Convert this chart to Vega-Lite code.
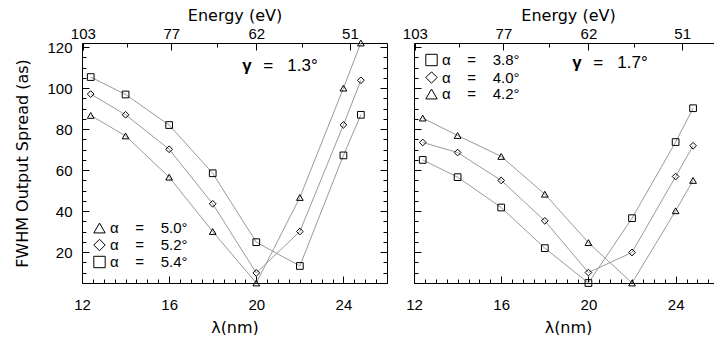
{
  "$schema": "https://vega.github.io/schema/vega-lite/v6.json",
  "padding": {"left": 14, "top": 7, "right": 0, "bottom": 0},
  "background": "white",
  "datasets": {
    "left": [
      {"lambda": 12.4, "fwhm": 86.7, "alpha": "α\u00a0\u00a0\u00a0\u00a0=\u00a0\u00a0\u00a0\u00a05.0°"},
      {"lambda": 14, "fwhm": 76.7, "alpha": "α\u00a0\u00a0\u00a0\u00a0=\u00a0\u00a0\u00a0\u00a05.0°"},
      {"lambda": 16, "fwhm": 56.6, "alpha": "α\u00a0\u00a0\u00a0\u00a0=\u00a0\u00a0\u00a0\u00a05.0°"},
      {"lambda": 18, "fwhm": 30.1, "alpha": "α\u00a0\u00a0\u00a0\u00a0=\u00a0\u00a0\u00a0\u00a05.0°"},
      {"lambda": 20, "fwhm": 5, "alpha": "α\u00a0\u00a0\u00a0\u00a0=\u00a0\u00a0\u00a0\u00a05.0°"},
      {"lambda": 22, "fwhm": 46.7, "alpha": "α\u00a0\u00a0\u00a0\u00a0=\u00a0\u00a0\u00a0\u00a05.0°"},
      {"lambda": 24, "fwhm": 100, "alpha": "α\u00a0\u00a0\u00a0\u00a0=\u00a0\u00a0\u00a0\u00a05.0°"},
      {"lambda": 24.8, "fwhm": 122, "alpha": "α\u00a0\u00a0\u00a0\u00a0=\u00a0\u00a0\u00a0\u00a05.0°"},
      {"lambda": 12.4, "fwhm": 97.1, "alpha": "α\u00a0\u00a0\u00a0\u00a0=\u00a0\u00a0\u00a0\u00a05.2°"},
      {"lambda": 14, "fwhm": 87, "alpha": "α\u00a0\u00a0\u00a0\u00a0=\u00a0\u00a0\u00a0\u00a05.2°"},
      {"lambda": 16, "fwhm": 70.2, "alpha": "α\u00a0\u00a0\u00a0\u00a0=\u00a0\u00a0\u00a0\u00a05.2°"},
      {"lambda": 18, "fwhm": 43.6, "alpha": "α\u00a0\u00a0\u00a0\u00a0=\u00a0\u00a0\u00a0\u00a05.2°"},
      {"lambda": 20, "fwhm": 9.9, "alpha": "α\u00a0\u00a0\u00a0\u00a0=\u00a0\u00a0\u00a0\u00a05.2°"},
      {"lambda": 22, "fwhm": 30.1, "alpha": "α\u00a0\u00a0\u00a0\u00a0=\u00a0\u00a0\u00a0\u00a05.2°"},
      {"lambda": 24, "fwhm": 82.1, "alpha": "α\u00a0\u00a0\u00a0\u00a0=\u00a0\u00a0\u00a0\u00a05.2°"},
      {"lambda": 24.8, "fwhm": 103.8, "alpha": "α\u00a0\u00a0\u00a0\u00a0=\u00a0\u00a0\u00a0\u00a05.2°"},
      {"lambda": 12.4, "fwhm": 105.4, "alpha": "α\u00a0\u00a0\u00a0\u00a0=\u00a0\u00a0\u00a0\u00a05.4°"},
      {"lambda": 14, "fwhm": 96.9, "alpha": "α\u00a0\u00a0\u00a0\u00a0=\u00a0\u00a0\u00a0\u00a05.4°"},
      {"lambda": 16, "fwhm": 82, "alpha": "α\u00a0\u00a0\u00a0\u00a0=\u00a0\u00a0\u00a0\u00a05.4°"},
      {"lambda": 18, "fwhm": 58.5, "alpha": "α\u00a0\u00a0\u00a0\u00a0=\u00a0\u00a0\u00a0\u00a05.4°"},
      {"lambda": 20, "fwhm": 24.9, "alpha": "α\u00a0\u00a0\u00a0\u00a0=\u00a0\u00a0\u00a0\u00a05.4°"},
      {"lambda": 22, "fwhm": 13.3, "alpha": "α\u00a0\u00a0\u00a0\u00a0=\u00a0\u00a0\u00a0\u00a05.4°"},
      {"lambda": 24, "fwhm": 67.2, "alpha": "α\u00a0\u00a0\u00a0\u00a0=\u00a0\u00a0\u00a0\u00a05.4°"},
      {"lambda": 24.8, "fwhm": 87, "alpha": "α\u00a0\u00a0\u00a0\u00a0=\u00a0\u00a0\u00a0\u00a05.4°"}
    ],
    "right": [
      {"lambda": 12.4, "fwhm": 65, "alpha": "α\u00a0\u00a0\u00a0\u00a0=\u00a0\u00a0\u00a0\u00a03.8°"},
      {"lambda": 14, "fwhm": 56.6, "alpha": "α\u00a0\u00a0\u00a0\u00a0=\u00a0\u00a0\u00a0\u00a03.8°"},
      {"lambda": 16, "fwhm": 41.8, "alpha": "α\u00a0\u00a0\u00a0\u00a0=\u00a0\u00a0\u00a0\u00a03.8°"},
      {"lambda": 18, "fwhm": 22, "alpha": "α\u00a0\u00a0\u00a0\u00a0=\u00a0\u00a0\u00a0\u00a03.8°"},
      {"lambda": 20, "fwhm": 5, "alpha": "α\u00a0\u00a0\u00a0\u00a0=\u00a0\u00a0\u00a0\u00a03.8°"},
      {"lambda": 22, "fwhm": 36.6, "alpha": "α\u00a0\u00a0\u00a0\u00a0=\u00a0\u00a0\u00a0\u00a03.8°"},
      {"lambda": 24, "fwhm": 73.7, "alpha": "α\u00a0\u00a0\u00a0\u00a0=\u00a0\u00a0\u00a0\u00a03.8°"},
      {"lambda": 24.8, "fwhm": 90.2, "alpha": "α\u00a0\u00a0\u00a0\u00a0=\u00a0\u00a0\u00a0\u00a03.8°"},
      {"lambda": 12.4, "fwhm": 73.5, "alpha": "α\u00a0\u00a0\u00a0\u00a0=\u00a0\u00a0\u00a0\u00a04.0°"},
      {"lambda": 14, "fwhm": 68.6, "alpha": "α\u00a0\u00a0\u00a0\u00a0=\u00a0\u00a0\u00a0\u00a04.0°"},
      {"lambda": 16, "fwhm": 55, "alpha": "α\u00a0\u00a0\u00a0\u00a0=\u00a0\u00a0\u00a0\u00a04.0°"},
      {"lambda": 18, "fwhm": 35.3, "alpha": "α\u00a0\u00a0\u00a0\u00a0=\u00a0\u00a0\u00a0\u00a04.0°"},
      {"lambda": 20, "fwhm": 10.1, "alpha": "α\u00a0\u00a0\u00a0\u00a0=\u00a0\u00a0\u00a0\u00a04.0°"},
      {"lambda": 22, "fwhm": 19.9, "alpha": "α\u00a0\u00a0\u00a0\u00a0=\u00a0\u00a0\u00a0\u00a04.0°"},
      {"lambda": 24, "fwhm": 56.9, "alpha": "α\u00a0\u00a0\u00a0\u00a0=\u00a0\u00a0\u00a0\u00a04.0°"},
      {"lambda": 24.8, "fwhm": 71.9, "alpha": "α\u00a0\u00a0\u00a0\u00a0=\u00a0\u00a0\u00a0\u00a04.0°"},
      {"lambda": 12.4, "fwhm": 85.4, "alpha": "α\u00a0\u00a0\u00a0\u00a0=\u00a0\u00a0\u00a0\u00a04.2°"},
      {"lambda": 14, "fwhm": 76.9, "alpha": "α\u00a0\u00a0\u00a0\u00a0=\u00a0\u00a0\u00a0\u00a04.2°"},
      {"lambda": 16, "fwhm": 66.7, "alpha": "α\u00a0\u00a0\u00a0\u00a0=\u00a0\u00a0\u00a0\u00a04.2°"},
      {"lambda": 18, "fwhm": 48.3, "alpha": "α\u00a0\u00a0\u00a0\u00a0=\u00a0\u00a0\u00a0\u00a04.2°"},
      {"lambda": 20, "fwhm": 24.7, "alpha": "α\u00a0\u00a0\u00a0\u00a0=\u00a0\u00a0\u00a0\u00a04.2°"},
      {"lambda": 22, "fwhm": 5, "alpha": "α\u00a0\u00a0\u00a0\u00a0=\u00a0\u00a0\u00a0\u00a04.2°"},
      {"lambda": 24, "fwhm": 40.2, "alpha": "α\u00a0\u00a0\u00a0\u00a0=\u00a0\u00a0\u00a0\u00a04.2°"},
      {"lambda": 24.8, "fwhm": 55, "alpha": "α\u00a0\u00a0\u00a0\u00a0=\u00a0\u00a0\u00a0\u00a04.2°"}
    ]
  },
  "spacing": 14,
  "resolve": {"scale": {"shape": "independent"}, "legend": {"shape": "independent"}},
  "hconcat": [
    {
      "width": 305,
      "height": 240,
      "data": {"name": "left"},
      "resolve": {"axis": {"x": "independent", "y": "independent"}},
      "layer": [
        {
          "mark": {"type": "line", "color": "#9a9a9a", "strokeWidth": 1},
          "encoding": {
            "x": {"field": "lambda", "type": "quantitative", "scale": {"domain": [12, 26], "nice": false, "zero": false},
              "axis": {"orient": "bottom", "title": "λ(nm)", "values": [12,12.5,13,13.5,14,14.5,15,15.5,16,16.5,17,17.5,18,18.5,19,19.5,20,20.5,21,21.5,22,22.5,23,23.5,24,24.5,25,25.5],
                "tickSize": {"condition": {"test": "datum.value % 4 === 0", "value": -7}, "value": -4},
                "labelExpr": "datum.value % 4 === 0 ? format(datum.value, 'd') : ''", "labelPadding": 21, "titlePadding": 4}},
            "y": {"field": "fwhm", "type": "quantitative", "scale": {"domain": [5, 122], "nice": false, "zero": false},
              "axis": {"orient": "left", "title": "FWHM Output Spread (as)", "values": [5,10,15,20,25,30,35,40,45,50,55,60,65,70,75,80,85,90,95,100,105,110,115,120],
                "tickSize": {"condition": {"test": "datum.value % 20 === 0", "value": -7}, "value": -4},
                "labelExpr": "datum.value % 20 === 0 ? format(datum.value, 'd') : ''", "labelPadding": 17, "titlePadding": 16}},
            "detail": {"field": "alpha"}
          }
        },
        {
          "mark": {"type": "point", "filled": false, "color": "black", "strokeWidth": 1, "size": 45, "opacity": 1},
          "encoding": {
            "x": {"field": "lambda", "type": "quantitative", "scale": {"domain": [12, 26], "nice": false, "zero": false}, "axis": null},
            "y": {"field": "fwhm", "type": "quantitative", "scale": {"domain": [5, 122], "nice": false, "zero": false}, "axis": null},
            "shape": {"field": "alpha", "type": "nominal",
              "scale": {"domain": ["α\u00a0\u00a0\u00a0\u00a0=\u00a0\u00a0\u00a0\u00a05.0°", "α\u00a0\u00a0\u00a0\u00a0=\u00a0\u00a0\u00a0\u00a05.2°", "α\u00a0\u00a0\u00a0\u00a0=\u00a0\u00a0\u00a0\u00a05.4°"], "range": ["triangle-up", "diamond", "square"]},
              "legend": {"orient": "none", "legendX": 10, "legendY": 177.5, "title": null, "padding": 0, "labelFontSize": 15, "symbolSize": 130, "symbolStrokeWidth": 1, "symbolStrokeColor": "black", "symbolFillColor": "transparent", "rowPadding": 0, "labelOffset": 3}}
          }
        },
        {
          "mark": {"type": "point", "opacity": 0},
          "encoding": {
            "x": {"field": "lambda", "type": "quantitative", "scale": {"domain": [12, 26], "nice": false, "zero": false},
              "axis": {"orient": "top", "title": "Energy (eV)", "values": [12.04, 14.05, 16.1, 18.2, 20, 22.1, 24.3],
                "tickSize": {"condition": {"test": "indexof([12.04, 16.1, 20, 24.3], datum.value) >= 0", "value": -7}, "value": -4},
                "labelExpr": "indexof([12.04, 16.1, 20, 24.3], datum.value) >= 0 ? format(1240 / datum.value, '.0f') : ''", "labelPadding": 9, "titlePadding": 0}},
            "y": {"field": "fwhm", "type": "quantitative", "scale": {"domain": [5, 122], "nice": false, "zero": false},
              "axis": {"orient": "right", "title": null, "labels": false, "minExtent": 0, "maxExtent": 0, "values": [5,10,15,20,25,30,35,40,45,50,55,60,65,70,75,80,85,90,95,100,105,110,115,120],
                "tickSize": {"condition": {"test": "datum.value % 20 === 0", "value": -7}, "value": -4}}}
          }
        },
        {
          "data": {"values": [{}]},
          "mark": {"type": "text", "align": "left", "baseline": "middle", "fontSize": 17, "fontWeight": "bold", "font": "Liberation Sans", "fill": "black"},
          "encoding": {
            "x": {"datum": 19.35, "type": "quantitative", "scale": {"domain": [12, 26], "nice": false, "zero": false}, "axis": null},
            "y": {"datum": 110.7, "type": "quantitative", "scale": {"domain": [5, 122], "nice": false, "zero": false}, "axis": null},
            "text": {"value": "γ"}
          }
        },
        {
          "data": {"values": [{}]},
          "mark": {"type": "text", "align": "left", "baseline": "middle", "fontSize": 17, "fontWeight": "normal", "font": "Liberation Sans", "fill": "black"},
          "encoding": {
            "x": {"datum": 20.32, "type": "quantitative", "scale": {"domain": [12, 26], "nice": false, "zero": false}, "axis": null},
            "y": {"datum": 110.7, "type": "quantitative", "scale": {"domain": [5, 122], "nice": false, "zero": false}, "axis": null},
            "text": {"value": "=\u00a0\u00a0\u00a01.3°"}
          }
        }
      ]
    },
    {
      "width": 300,
      "height": 240,
      "data": {"name": "right"},
      "resolve": {"axis": {"x": "independent", "y": "independent"}},
      "layer": [
        {
          "mark": {"type": "line", "color": "#9a9a9a", "strokeWidth": 1},
          "encoding": {
            "x": {"field": "lambda", "type": "quantitative", "scale": {"domain": [12, 25.76], "nice": false, "zero": false},
              "axis": {"orient": "bottom", "title": "λ(nm)", "values": [12,12.5,13,13.5,14,14.5,15,15.5,16,16.5,17,17.5,18,18.5,19,19.5,20,20.5,21,21.5,22,22.5,23,23.5,24,24.5,25,25.5],
                "tickSize": {"condition": {"test": "datum.value % 4 === 0", "value": -7}, "value": -4},
                "labelExpr": "datum.value % 4 === 0 ? format(datum.value, 'd') : ''", "labelPadding": 21, "titlePadding": 4, "titleX": 154}},
            "y": {"field": "fwhm", "type": "quantitative", "scale": {"domain": [5, 122], "nice": false, "zero": false},
              "axis": {"orient": "left", "title": null, "labels": false, "minExtent": 0, "maxExtent": 0, "values": [5,10,15,20,25,30,35,40,45,50,55,60,65,70,75,80,85,90,95,100,105,110,115,120],
                "tickSize": {"condition": {"test": "datum.value % 20 === 0", "value": -7}, "value": -4}}},
            "detail": {"field": "alpha"}
          }
        },
        {
          "mark": {"type": "point", "filled": false, "color": "black", "strokeWidth": 1, "size": 45, "opacity": 1},
          "encoding": {
            "x": {"field": "lambda", "type": "quantitative", "scale": {"domain": [12, 25.76], "nice": false, "zero": false}, "axis": null},
            "y": {"field": "fwhm", "type": "quantitative", "scale": {"domain": [5, 122], "nice": false, "zero": false}, "axis": null},
            "shape": {"field": "alpha", "type": "nominal",
              "scale": {"domain": ["α\u00a0\u00a0\u00a0\u00a0=\u00a0\u00a0\u00a0\u00a03.8°", "α\u00a0\u00a0\u00a0\u00a0=\u00a0\u00a0\u00a0\u00a04.0°", "α\u00a0\u00a0\u00a0\u00a0=\u00a0\u00a0\u00a0\u00a04.2°"], "range": ["square", "diamond", "triangle-up"]},
              "legend": {"orient": "none", "legendX": 10, "legendY": 9.5, "title": null, "padding": 0, "labelFontSize": 15, "symbolSize": 130, "symbolStrokeWidth": 1, "symbolStrokeColor": "black", "symbolFillColor": "transparent", "rowPadding": 0.5, "labelOffset": 3}}
          }
        },
        {
          "mark": {"type": "point", "opacity": 0},
          "encoding": {
            "x": {"field": "lambda", "type": "quantitative", "scale": {"domain": [12, 25.76], "nice": false, "zero": false},
              "axis": {"orient": "top", "title": "Energy (eV)", "titleX": 154, "values": [12.04, 14.05, 16.1, 18.2, 20, 22.1, 24.3],
                "tickSize": {"condition": {"test": "indexof([12.04, 16.1, 20, 24.3], datum.value) >= 0", "value": -7}, "value": -4},
                "labelExpr": "indexof([12.04, 16.1, 20, 24.3], datum.value) >= 0 ? format(1240 / datum.value, '.0f') : ''", "labelPadding": 9, "titlePadding": 0}},
            "y": {"field": "fwhm", "type": "quantitative", "scale": {"domain": [5, 122], "nice": false, "zero": false}, "axis": null}
          }
        },
        {
          "data": {"values": [{}]},
          "mark": {"type": "text", "align": "left", "baseline": "middle", "fontSize": 17, "fontWeight": "bold", "font": "Liberation Sans", "fill": "black"},
          "encoding": {
            "x": {"datum": 19.26, "type": "quantitative", "scale": {"domain": [12, 25.76], "nice": false, "zero": false}, "axis": null},
            "y": {"datum": 112.2, "type": "quantitative", "scale": {"domain": [5, 122], "nice": false, "zero": false}, "axis": null},
            "text": {"value": "γ"}
          }
        },
        {
          "data": {"values": [{}]},
          "mark": {"type": "text", "align": "left", "baseline": "middle", "fontSize": 17, "fontWeight": "normal", "font": "Liberation Sans", "fill": "black"},
          "encoding": {
            "x": {"datum": 20.22, "type": "quantitative", "scale": {"domain": [12, 25.76], "nice": false, "zero": false}, "axis": null},
            "y": {"datum": 112.2, "type": "quantitative", "scale": {"domain": [5, 122], "nice": false, "zero": false}, "axis": null},
            "text": {"value": "=\u00a0\u00a0\u00a01.7°"}
          }
        }
      ]
    }
  ],
  "config": {
    "font": "Liberation Sans",
    "view": {"stroke": null},
    "axis": {
      "grid": false, "domainColor": "black", "domainWidth": 1, "tickColor": "black", "tickWidth": 1,
      "labelColor": "black", "titleColor": "black", "labelFontSize": 15, "titleFontSize": 16,
      "titleFontWeight": "normal", "labelFlush": false, "labelOverlap": false, "labelFont": "Liberation Sans", "titleFont": "DejaVu Sans"
    },
    "legend": {"labelFont": "Liberation Sans", "labelColor": "black"}
  }
}
